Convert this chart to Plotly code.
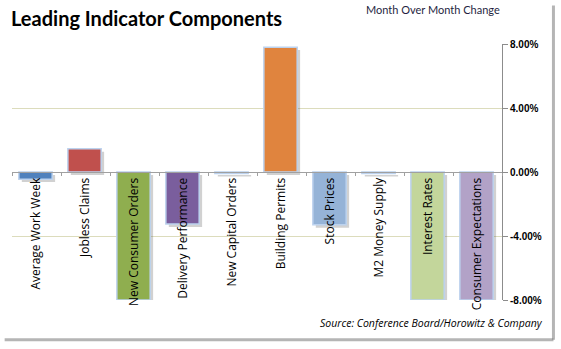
import plotly.graph_objects as go

categories = ["Average Work Week", "Jobless Claims", "New Consumer Orders",
              "Delivery Performance", "New Capital Orders", "Building Permits",
              "Stock Prices", "M2 Money Supply", "Interest Rates", "Consumer Expectations"]
values = [-0.45, 1.45, -8.0, -3.25, -0.1, 7.8, -3.3, -0.1, -8.0, -8.0]
colors = ["#4f81bd", "#c0504d", "#8fae4f", "#7a5e9d", "#d4d4d4", "#e0843e",
          "#95b3d7", "#d4d4d4", "#c3d69b", "#b2a2c7"]
tick_vals = [-8, -4, 0, 4, 8]
tick_text = ["-8.00%", "-4.00%", "0.00%", "4.00%", "8.00%"]

fig = go.Figure()
# drop shadow
fig.add_trace(go.Bar(x=categories, y=values, base=-0.18, width=0.68, offset=-0.30,
                     marker=dict(color="rgba(90,90,90,0.28)", line=dict(width=0)),
                     hoverinfo="skip", showlegend=False))
fig.add_trace(go.Bar(x=categories, y=values, width=0.68, offset=-0.36,
                     marker=dict(color=colors, line=dict(color="#bcd2ee", width=1.5)),
                     showlegend=False))

fig.update_layout(
    width=561, height=349,
    margin=dict(l=12, r=59, t=44, b=49),
    paper_bgcolor="white", plot_bgcolor="white",
    barmode="overlay",
    xaxis=dict(anchor="free", position=0.5, showline=True, linecolor="#a0a0a0",
               linewidth=1, tickson="boundaries", ticks="outside", ticklen=3,
               tickcolor="#a0a0a0", tickangle=-90,
               tickfont=dict(family="Open Sans", size=12, color="black"),
               showgrid=False, zeroline=False, range=[-0.5, 9.5]),
    yaxis=dict(side="right", range=[-8, 8], tickvals=tick_vals, ticktext=tick_text,
               showline=True, linecolor="#8c8c8c", linewidth=1, ticks="outside",
               ticklen=5, tickcolor="#8c8c8c", showgrid=True, gridcolor="#dcdcbc",
               zeroline=False,
               tickfont=dict(family="Liberation Sans", size=10, color="black", weight="bold")),
    annotations=[
        dict(text="<b>Leading Indicator Components</b>", xref="paper", yref="paper",
             x=-0.006, y=1.102, xanchor="left", yanchor="middle", showarrow=False,
             font=dict(family="Lato", size=20, color="black")),
        dict(text="Month Over Month Change", xref="paper", yref="paper",
             x=1.0, y=1.133, xanchor="right", yanchor="middle", showarrow=False,
             font=dict(family="Lato", size=11, color="#1f1f3f")),
        dict(text="<i>Source: Conference Board/Horowitz & Company</i>", xref="paper",
             yref="paper", x=1.088, y=-0.055, xanchor="right", yanchor="top",
             showarrow=False, font=dict(family="Open Sans", size=10.5, color="black")),
    ],
    shapes=[
        dict(type="line", xref="paper", yref="paper", x0=1.105, x1=1.105, y0=1.15, y1=-0.155,
             line=dict(color="rgba(120,120,120,0.55)", width=3)),
        dict(type="line", xref="paper", yref="paper", x0=-0.015, x1=1.105, y0=-0.155, y1=-0.155,
             line=dict(color="rgba(120,120,120,0.55)", width=3)),
    ],
)

fig.write_html("out.html")
